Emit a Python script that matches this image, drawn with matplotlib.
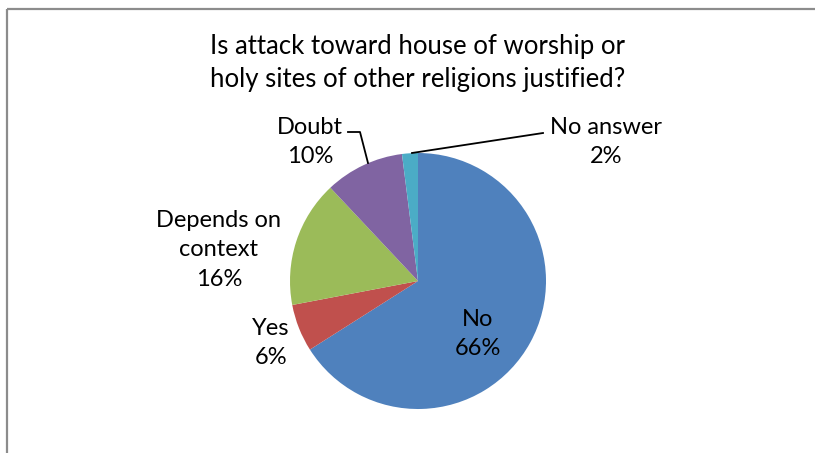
#!/usr/bin/env python3

import matplotlib.pyplot as plt
from matplotlib.patches import Rectangle

labels = ["No", "Yes", "Depends on\ncontext", "Doubt", "No answer"]
shares = [66, 6, 16, 10, 2]
colors = ["#4F81BD", "#C0504D", "#9BBB59", "#8064A2", "#4BACC6"]
title = "Is attack toward house of worship or\nholy sites of other religions justified?"

W, H = 815, 453


def main():
  plt.rcParams["font.family"] = ["Lato", "DejaVu Sans"]
  fig = plt.figure(figsize=(W / 100, H / 100), dpi=100)
  ax = fig.add_axes([0, 0, 1, 1])

  # chart frame, cut off on the right and bottom
  ax.add_patch(Rectangle((6.5, 8.5), W + 20, H + 20, fill=False, edgecolor="#8c8c8c", lw=1.6))

  cx, cy, r = 418, 281, 128
  # y axis is inverted: start at the top and run clockwise on screen
  ax.pie(shares, colors=colors, startangle=-90, counterclock=True,
         center=(cx, cy), radius=r, wedgeprops={"linewidth": 0})
  ax.set_xlim(0, W)
  ax.set_ylim(H, 0)
  ax.set_aspect("equal")
  ax.axis("off")

  ax.text(cx, 63, title, ha="center", va="center", fontsize=18.5, linespacing=1.42)

  fs = 17
  pos = [(478, 334), (271, 343), (219, 250), (310, 142), (606, 142)]
  for lab, val, (x, y) in zip(labels, shares, pos):
    ax.text(x, y, "%s\n%d%%" % (lab, val), ha="center", va="center", fontsize=fs, linespacing=1.5)

  # leader lines
  ax.plot([348, 360, 368], [132, 132, 163], color="black", lw=1.3)
  ax.plot([543, 412], [133, 153], color="black", lw=1.3)

  fig.savefig("out.png", dpi=100)


if __name__ == "__main__":
  main()
